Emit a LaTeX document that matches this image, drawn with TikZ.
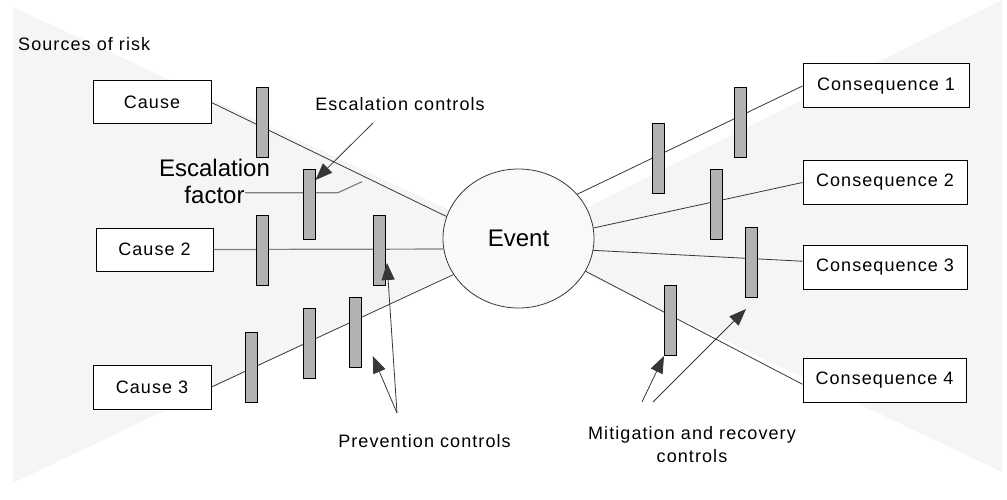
\documentclass[tikz,border=0pt]{standalone}
\usepackage{fontspec}
\setmainfont{Liberation Sans}[LetterSpace=6]
\newfontfamily\bigfont{Liberation Sans}
\usetikzlibrary{shapes.geometric,arrows.meta}
\definecolor{wedge}{RGB}{245,245,246}
\definecolor{barfill}{RGB}{178,178,178}
\definecolor{evfill}{RGB}{249,249,249}
\definecolor{linegray}{RGB}{55,55,55}
\begin{document}
\begin{tikzpicture}[x=1pt,y=-1pt,
  box/.style={draw=black, line width=1pt, fill=white, inner sep=0pt, font=\fontsize{18}{21}\selectfont},
  lbl/.style={inner sep=0pt, font=\fontsize{18}{23}\selectfont, align=center},
  bar/.style={draw=black, line width=0.8pt, fill=barfill, minimum width=12pt, minimum height=70pt, inner sep=0pt},
  conn/.style={draw=linegray, line width=0.8pt},
  arr/.style={draw=linegray, line width=0.8pt, -{Triangle[length=17pt,width=13pt]}}]
\useasboundingbox (0,0) rectangle (1007,500);
% background wedges
\fill[wedge] (13,7) -- (518,242) -- (13,483) -- cycle;
\fill[wedge] (1002,0) -- (518,242) -- (1002,472) -- cycle;

% boxes
\node[box, minimum width=118pt, minimum height=43pt] (cause1) at (152,102.5) {Cause};
\node[box, minimum width=117pt, minimum height=43pt] (cause2) at (154.5,249.5) {Cause 2};
\node[box, minimum width=118pt, minimum height=44pt] (cause3) at (152,387) {Cause 3};
\node[box, minimum width=166pt, minimum height=44pt] (cons1) at (886,86) {Consequence 1};
\node[box, minimum width=164pt, minimum height=43pt] (cons2) at (885,182.5) {Consequence 2};
\node[box, minimum width=164pt, minimum height=44pt] (cons3) at (885,267) {Consequence 3};
\node[box, minimum width=163pt, minimum height=44pt] (cons4) at (884.5,380) {Consequence 4};

% event
\node[ellipse, draw=linegray, line width=0.8pt, fill=evfill, minimum width=151pt, minimum height=139pt, inner sep=0pt,
      font=\bigfont\fontsize{24}{28}\selectfont] (event) at (518.5,238.5) {Event};

% connectors
\draw[conn] (cause1.east) -- (event.163.4);
\draw[conn, draw=gray, line width=1.2pt] (cause2.east) -- (event.188.7);
\draw[conn] (cause3.east) -- (event.209.1);
\draw[conn] (event.37.3) -- (cons1.west);
\draw[conn] (event.8.7) -- (cons2.west);
\draw[conn] (event.351.3) -- (cons3.176.5);
\draw[conn] (event.334.6) -- (cons4.183);

% escalation factor
\node[inner sep=0pt, align=center, font=\bigfont\fontsize{24}{27}\selectfont] (escf) at (214.5,181) {Escalation\\factor};
\coordinate (ef1) at (245,192.7);
\coordinate (ef2) at (338,192.7);
\coordinate (ef3) at (362,181.7);
\draw[draw=gray, line width=1.2pt] (ef1) -- (ef2) -- (ef3);

% bars
\node[bar] (b1) at (262,122) {};
\node[bar] (besc) at (309.3,204.2) {};
\node[bar] (b2a) at (262,250.5) {};
\node[bar] (b2b) at (379.3,250.5) {};
\node[bar] (b3a) at (251,367.3) {};
\node[bar] (b3b) at (309.3,343.3) {};
\node[bar] (b3c) at (355.3,332.3) {};
\node[bar] (r1a) at (658.3,158) {};
\node[bar] (r1b) at (740,122.3) {};
\node[bar] (r2) at (716.3,204.2) {};
\node[bar] (r3) at (751.3,262.5) {};
\node[bar] (r4) at (670.5,320.3) {};

% labels
\node[lbl, anchor=west] (src) at (18,44) {Sources of risk};
\node[lbl] (escc) at (400,104) {Escalation controls};
\node[lbl] (prev) at (424.5,441) {Prevention controls};
\node[lbl] (miti) at (692,444.5) {Mitigation and recovery\\controls};

% arrows
\coordinate (ecT) at (373,123);
\coordinate (ecH) at (315.5,180);
\draw[arr] (ecT) -- (ecH);
\coordinate (pvT) at (397,413);
\coordinate (pvH1) at (387,263);
\coordinate (pvH2) at (372.7,356);
\draw[arr] (pvT) -- (pvH1);
\draw[arr] (pvT) -- (pvH2);
\coordinate (mtT1) at (642,402);
\coordinate (mtT2) at (653,402);
\coordinate (mtH1) at (664,356);
\coordinate (mtH2) at (746,309);
\draw[arr] (mtT1) -- (mtH1);
\draw[arr] (mtT2) -- (mtH2);
\end{tikzpicture}
\end{document}
